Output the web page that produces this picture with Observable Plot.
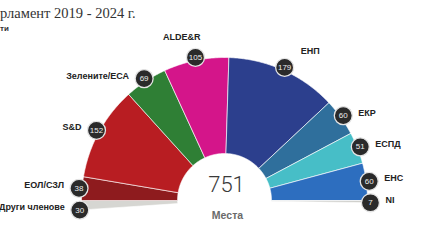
<!DOCTYPE html>
<html><head><meta charset="utf-8">
<script src="https://cdn.jsdelivr.net/npm/d3@7"></script>
<script src="https://cdn.jsdelivr.net/npm/@observablehq/plot@0.6"></script>
<style>
body{margin:0;background:#fff;width:440px;height:243px;overflow:hidden;position:relative}
#chart{position:absolute;left:0;top:0}
#title{position:absolute;left:0;top:6px;font-family:"Liberation Serif",serif;font-size:14.5px;line-height:15px;color:#333;white-space:nowrap}
#sub{position:absolute;left:0;top:25px;font:bold 8px/8px "Liberation Sans",sans-serif;color:#333}
</style></head><body>
<div id="chart"></div>
<div id="title">рламент 2019 - 2024 г.</div>
<div id="sub">ти</div>
<script>
const parties = ["Други членове","ЕОЛ/СЗЛ","S&D","Зелените/ЕСА","ALDE&R","ЕНП","ЕКР","ЕСПД","ЕНС","NI"];
const seats   = [30, 38, 152, 69, 105, 179, 60, 51, 60, 7];
const colors  = ["#d6d6d2","#8e1b1e","#b81d22","#2f7f35","#d4158a","#2c3f8d","#2f6f9c","#47bec7","#2d6ebf","#d0d0cc"];
const baseLeft = "Други членове";
const baseRight = "NI";
const centerLabel = "Места";

const R = 143, r0 = 47, Rb = 146, squash = 0.5;
const rows = parties.map((p, i) => ({party: p, seats: seats[i], color: colors[i]}));
const arcRows = rows.filter(d => d.party !== baseLeft && d.party !== baseRight);
const arcTotal = d3.sum(arcRows, d => d.seats);
const deg = 180 / arcTotal;
let cum = 0;
for (const d of arcRows) { d.a0 = cum * deg; cum += d.seats; d.a1 = cum * deg; d.mid = (d.a0 + d.a1) / 2; }
for (const d of rows) {
  if (d.party === baseLeft) { d.a0 = -d.seats * deg; d.a1 = 0; d.mid = d.a0; }
  if (d.party === baseRight) { d.a0 = 180; d.a1 = 180 + d.seats * deg; d.mid = d.a1; }
}
function pt(theta, rad) {
  const t = theta * Math.PI / 180;
  let x = -rad * Math.cos(t), y = rad * Math.sin(t);
  if (y < 0) y *= squash;
  return {x, y};
}
const poly = [];
for (const d of rows) {
  const n = Math.max(2, Math.ceil((d.a1 - d.a0) / 0.5));
  for (let k = 0; k <= n; k++) poly.push({...pt(d.a0 + (d.a1 - d.a0) * k / n, R), party: d.party, color: d.color});
  for (let k = n; k >= 0; k--) poly.push({...pt(d.a0 + (d.a1 - d.a0) * k / n, r0), party: d.party, color: d.color});
  poly.push({...pt(d.a0, R), party: d.party, color: d.color});
}
const bubbles = rows.map(d => {
  const p = pt(d.mid, Rb);
  let lx, ly, anchor;
  const ang = d.mid;
  if (ang > 70 && ang < 90) { anchor = "middle"; lx = p.x + (ang - 90) * 1.2; ly = p.y + 20; }
  else if (ang >= 90 && ang < 120) { anchor = "middle"; lx = p.x + (ang - 90) * 1.05; ly = p.y + 16; }
  else if (ang <= 70) { anchor = "end"; lx = p.x - 15; ly = p.y + 3; }
  else { anchor = "start"; lx = p.x + 15; ly = p.y + 3; }
  return {...d, x: p.x, y: p.y, lx, ly, anchor};
});
const total = d3.sum(seats);
const labelFont = "'Liberation Sans', Arial, sans-serif";

const chart = Plot.plot({
  width: 440, height: 243, margin: 0,
  x: {domain: [-224, 216], range: [0, 440], axis: null},
  y: {domain: [-43, 200], range: [243, 0], axis: null},
  color: {type: "identity"},
  style: {background: "transparent"},
  marks: [
    Plot.line(poly, {x: "x", y: "y", z: "party", fill: "color", stroke: "#ffffff", strokeWidth: 0.9, strokeOpacity: 0.7}),
    Plot.dot(bubbles, {x: "x", y: "y", r: 9, fill: "#2a2a2a", stroke: "#e4e4e4", strokeWidth: 1.3}),
    Plot.text(bubbles, {x: "x", y: "y", text: d => String(d.seats), fill: "#eeeeee", fontSize: 8, fontFamily: labelFont}),
    ...["start", "middle", "end"].map(a => Plot.text(bubbles.filter(d => d.anchor === a), {
      x: "lx", y: "ly", text: "party", textAnchor: a, fill: "#222", fontSize: 9, fontWeight: "bold", fontFamily: labelFont})),
    Plot.text([total], {x: 0, y: 0, text: d => String(d), dx: 2, dy: -16, fontSize: 22, fontWeight: 300, fontFamily: "Roboto, sans-serif", fill: "#3a3a3a"}),
    Plot.text([centerLabel], {x: 0, y: 0, text: d => d, dx: 3, dy: 15, fontSize: 10.5, fontWeight: "bold", fontFamily: labelFont, fill: "#6a6a6a"})
  ]
});
document.getElementById("chart").appendChild(chart);
</script>
</body></html>
